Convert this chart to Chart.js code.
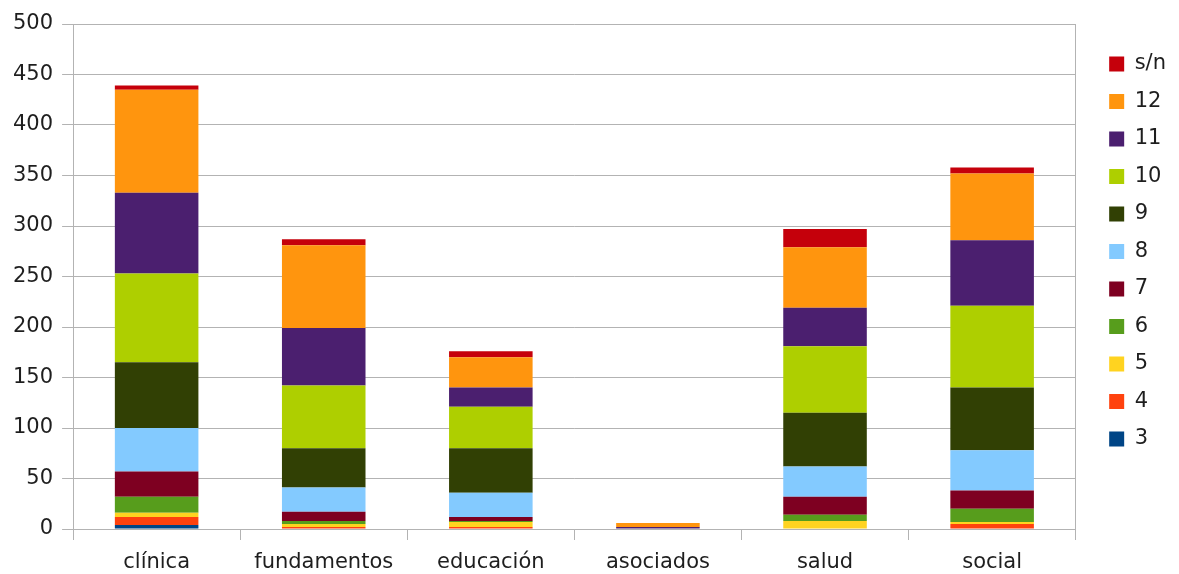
<!DOCTYPE html>
<html>
<head>
<meta charset="utf-8">
<script src="https://cdn.jsdelivr.net/npm/chart.js@4.4.1/dist/chart.umd.min.js"></script>
<style>
  html, body { margin: 0; padding: 0; background: #fff; }
  #wrap { width: 1179px; height: 574px; }
</style>
</head>
<body>
<div id="wrap"><canvas id="grades"></canvas></div>
<script>
// categories and one array per grade (bottom of stack first)
const areas = ['clínica', 'fundamentos', 'educación', 'asociados', 'salud', 'social'];

const g3  = [4, 0, 0, 0, 0, 0];
const g4  = [8, 2, 2, 0, 0, 5];
const g5  = [4, 3, 5, 0, 8, 2];
const g6  = [16, 3, 1, 0, 6, 13];
const g7  = [25, 9, 4, 0, 18, 18];
const g8  = [43, 24, 24, 0, 30, 40];
const g9  = [65, 39, 44, 0, 53, 62];
const g10 = [88, 62, 41, 0, 66, 81];
const g11 = [80, 57, 19, 2, 38, 65];
const g12 = [102, 82, 30, 4, 60, 66];
const gSN = [4, 6, 6, 0, 18, 6];

const yTicks = [0, 50, 100, 150, 200, 250, 300, 350, 400, 450, 500];

const gridGrey = '#b3b3b3';
const textCol = '#1e1e1e';
const font = { family: 'DejaVu Sans', size: 21 };

function ds(label, data, color) {
  return { label: label, data: data, backgroundColor: color, borderWidth: 0 };
}

let gradesCtx = document.getElementById('grades');
var gradesChart = new Chart(gradesCtx, {
  type: 'bar',
  data: {
    labels: areas,
    datasets: [
      ds('3', g3, '#004586'),
      ds('4', g4, '#ff420e'),
      ds('5', g5, '#ffd320'),
      ds('6', g6, '#579d1c'),
      ds('7', g7, '#7e0021'),
      ds('8', g8, '#83caff'),
      ds('9', g9, '#314004'),
      ds('10', g10, '#aecf00'),
      ds('11', g11, '#4b1f6f'),
      ds('12', g12, '#ff950e'),
      ds('s/n', gSN, '#c5000b')
    ]
  },
  options: {
    responsive: true,
    maintainAspectRatio: false,
    animation: false,
    datasets: { bar: { barPercentage: 0.5, categoryPercentage: 1 } },
    layout: { padding: { top: 24, left: 4, right: 3, bottom: 0 } },
    plugins: {
      tooltip: { enabled: false },
      legend: {
        position: 'right',
        align: 'start',
        reverse: true,
        title: { display: true, text: ' ', font: { size: 10 }, padding: { top: 0, bottom: 1 } },
        labels: { boxWidth: 15, boxHeight: 15, padding: 16.5, color: textCol, font: font }
      }
    },
    scales: {
      x: {
        stacked: true,
        grid: { drawOnChartArea: false, offset: true, tickLength: 11, color: gridGrey },
        border: { color: gridGrey },
        ticks: { color: textCol, font: font, padding: 10 },
        afterFit: (scale) => { scale.height = 45; }
      },
      y: {
        stacked: true,
        min: 0,
        max: 500,
        afterBuildTicks: (scale) => { scale.ticks = yTicks.map(v => ({ value: v })); },
        grid: { color: gridGrey, tickLength: 11 },
        border: { color: gridGrey },
        ticks: { color: textCol, font: font, padding: 9 }
      },
      // empty right axis, only for the right border line and spacing before the legend
      yRight: {
        position: 'right',
        display: true,
        min: 0,
        max: 500,
        grid: { drawOnChartArea: false, drawTicks: false },
        border: { color: gridGrey },
        ticks: { display: false },
        afterFit: (scale) => { scale.width = 17; }
      }
    }
  }
});
</script>
</body>
</html>
